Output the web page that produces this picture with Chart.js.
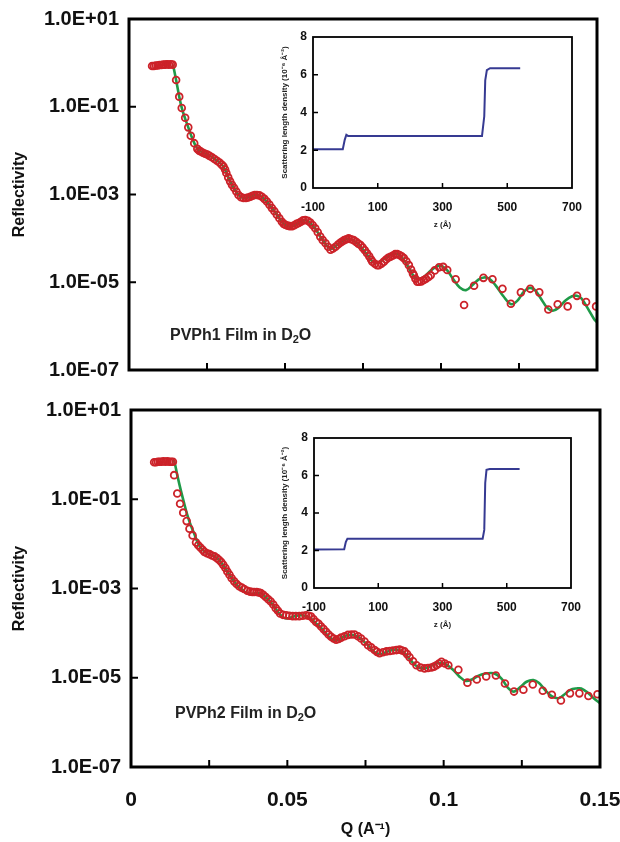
<!DOCTYPE html>
<html><head><meta charset="utf-8">
<script src="https://cdn.jsdelivr.net/npm/chart.js@4.4.1/dist/chart.umd.min.js"></script>
<style>
html,body{margin:0;padding:0;background:#fff;}
body{width:620px;height:842px;position:relative;overflow:hidden;font-family:'Liberation Sans',Arial,sans-serif;}
canvas{position:absolute;display:block;}
.lab{position:absolute;font-weight:bold;font-size:16px;white-space:nowrap;color:#222;line-height:18px;}
.lab sub{font-size:11px;vertical-align:-3px;line-height:0;}
</style></head><body>
<canvas id="mainTop" width="620" height="400" style="left:0;top:0"></canvas>
<canvas id="mainBot" width="620" height="442" style="left:0;top:400px"></canvas>
<canvas id="insTop" width="325" height="215" style="left:275px;top:25px"></canvas>
<canvas id="insBot" width="325" height="215" style="left:275px;top:425px"></canvas>
<div class="lab" style="left:170px;top:326px">PVPh1 Film in D<sub>2</sub>O</div>
<div class="lab" style="left:175px;top:704px">PVPh2 Film in D<sub>2</sub>O</div>
<script>
// ---- axis ticks ----
const yTickValues = [1e1, 1e-1, 1e-3, 1e-5, 1e-7];
const yTickLabels = ['1.0E+01', '1.0E-01', '1.0E-03', '1.0E-05', '1.0E-07'];
const xTickValues = [0, 0.025, 0.05, 0.075, 0.1, 0.125, 0.15];
const xTickLabels = ['0', '', '0.05', '', '0.1', '', '0.15'];
const insetXTicks = [-100, 100, 300, 500, 700];
const insetYTicks = [0, 2, 4, 6, 8];

const topQ = [0.0074,0.0080,0.0086,0.0092,0.0098,0.0104,0.0110,0.0116,0.0122,0.0128,0.0134,0.0140,
0.0151,0.0161,0.0169,0.0180,0.0190,0.0198,0.0209,0.0219,0.0225,0.0230,0.0237,0.0244,0.0251,0.0258,0.0266,0.0274,0.0282,0.0290,0.0297,0.0303,0.0308,0.0312,0.0318,0.0324,0.0330,0.0337,
0.0344,0.0351,0.0359,0.0367,0.0375,0.0382,0.0389,0.0396,0.0403,0.0410,0.0418,0.0426,0.0434,0.0442,0.0450,0.0458,0.0466,0.0474,0.0482,0.0490,0.0496,0.0501,0.0508,0.0515,0.0523,0.0530,0.0537,0.0544,0.0551,0.0558,0.0565,0.0573,0.0581,0.0589,0.0597,0.0605,0.0613,0.0621,0.0630,0.0638,0.0646,0.0654,0.0662,0.0670,0.0677,0.0683,0.0690,0.0697,0.0704,0.0712,0.0720,0.0728,0.0735,0.0742,0.0749,0.0756,0.0763,0.0770,0.0776,0.0780,0.0788,0.0795,0.0801,0.0809,0.0817,0.0824,0.0831,0.0838,0.0846,0.0853,0.0860,0.0867,0.0874,0.0881,0.0889,0.0897,0.0904,0.0910,0.0913,0.0918,0.0924,0.0930,0.0937,0.0945,0.0952,0.0960,0.0967,0.0980,0.0994,0.1007,0.1020,0.1047,0.1074,0.1106,0.1136,0.1165,0.1197,0.1224,0.1256,0.1286,0.1315,0.1344,0.1374,0.1406,0.1436,0.1465,0.1497];
const topLogR = [-0.07,-0.07,-0.06,-0.06,-0.05,-0.05,-0.04,-0.04,-0.03,-0.04,-0.03,-0.04,
-0.39,-0.77,-1.03,-1.25,-1.47,-1.66,-1.83,-1.96,-2.00,-2.02,-2.05,-2.07,-2.09,-2.12,-2.15,-2.19,-2.23,-2.27,-2.32,-2.36,-2.43,-2.51,-2.61,-2.70,-2.78,-2.85,
-2.93,-3.01,-3.06,-3.08,-3.08,-3.07,-3.05,-3.03,-3.01,-3.01,-3.02,-3.05,-3.10,-3.16,-3.23,-3.31,-3.38,-3.46,-3.54,-3.62,-3.67,-3.69,-3.71,-3.72,-3.72,-3.70,-3.67,-3.65,-3.62,-3.59,-3.58,-3.60,-3.64,-3.70,-3.77,-3.86,-3.96,-4.04,-4.11,-4.19,-4.26,-4.23,-4.19,-4.14,-4.10,-4.07,-4.04,-4.02,-4.00,-4.02,-4.04,-4.08,-4.12,-4.15,-4.21,-4.27,-4.34,-4.41,-4.48,-4.53,-4.58,-4.61,-4.61,-4.58,-4.53,-4.48,-4.44,-4.42,-4.39,-4.36,-4.36,-4.38,-4.41,-4.45,-4.52,-4.61,-4.71,-4.80,-4.84,-4.92,-4.99,-4.99,-4.98,-4.95,-4.92,-4.88,-4.84,-4.73,-4.66,-4.65,-4.72,-4.93,-5.52,-5.08,-4.90,-4.93,-5.15,-5.49,-5.23,-5.15,-5.23,-5.62,-5.50,-5.55,-5.31,-5.45,-5.55];

// ---- PVPh1 model fit ----
const topFitQ = [0.0141,0.0151,0.0161,0.0170,0.0180,0.0190,0.0200,0.0210,0.0220,0.0230,0.0245,0.0260,0.0275,0.0290,0.0303,0.0315,0.0325,0.0337,0.0350,0.0362,0.0375,0.0390,0.0405,0.0418,0.0430,0.0445,0.0460,0.0475,0.0490,0.0502,0.0515,0.0530,0.0545,0.0560,0.0572,0.0585,0.0600,0.0615,0.0630,0.0642,0.0652,0.0665,0.0680,0.0695,0.0705,0.0720,0.0735,0.0750,0.0765,0.0778,0.0790,0.0800,0.0815,0.0830,0.0845,0.0858,0.0872,0.0885,0.0900,0.0915,0.0930,0.0945,0.0960,0.0975,0.0990,0.1005,0.1020,0.1040,0.1060,0.1080,0.1100,0.1120,0.1138,0.1155,0.1175,0.1200,0.1225,0.1245,0.1265,0.1283,0.1300,0.1320,0.1340,0.1358,0.1375,0.1400,0.1420,0.1435,0.1450,0.1470,0.1490,0.1500];
const topFitLogR = [-0.04,-0.39,-0.77,-1.05,-1.27,-1.47,-1.67,-1.84,-1.96,-2.02,-2.07,-2.12,-2.19,-2.27,-2.37,-2.55,-2.71,-2.86,-3.00,-3.07,-3.08,-3.05,-3.01,-3.02,-3.08,-3.19,-3.33,-3.47,-3.62,-3.70,-3.73,-3.70,-3.64,-3.59,-3.60,-3.68,-3.81,-3.98,-4.13,-4.22,-4.23,-4.16,-4.08,-4.02,-4.01,-4.05,-4.13,-4.25,-4.39,-4.51,-4.56,-4.55,-4.48,-4.41,-4.36,-4.35,-4.41,-4.53,-4.71,-4.88,-4.93,-4.88,-4.78,-4.69,-4.63,-4.64,-4.73,-4.94,-5.12,-5.18,-5.07,-4.94,-4.89,-4.92,-5.07,-5.32,-5.50,-5.42,-5.22,-5.13,-5.17,-5.37,-5.58,-5.65,-5.59,-5.41,-5.32,-5.31,-5.37,-5.59,-5.83,-5.91];

// ---- PVPh2 measured data ----
const botQ = [0.0074,0.0080,0.0086,0.0092,0.0098,0.0104,0.0110,0.0116,0.0122,0.0128,0.0134,
0.0138,0.0148,0.0157,0.0167,0.0178,0.0187,0.0197,0.0208,0.0215,0.0222,0.0229,0.0235,0.0243,0.0251,0.0259,0.0267,0.0275,0.0282,0.0289,0.0295,0.0302,0.0308,0.0315,0.0322,0.0330,0.0338,0.0346,0.0354,0.0362,0.0372,0.0381,0.0388,0.0394,0.0402,0.0409,0.0415,0.0423,0.0431,0.0439,0.0447,0.0455,0.0463,0.0470,0.0477,0.0486,0.0496,0.0506,0.0517,0.0527,0.0538,0.0549,0.0560,0.0568,0.0576,0.0584,0.0592,0.0600,0.0608,0.0616,0.0624,0.0632,0.0640,0.0648,0.0656,0.0664,0.0672,0.0683,0.0694,0.0705,0.0715,0.0726,0.0736,0.0747,0.0758,0.0768,0.0779,0.0787,0.0795,0.0806,0.0817,0.0828,0.0838,0.0849,0.0859,0.0867,0.0875,0.0883,0.0891,0.0902,0.0913,0.0926,0.0939,0.0950,0.0961,0.0969,0.0977,0.0985,0.0993,0.1004,0.1015,0.1047,0.1076,0.1106,0.1136,0.1167,0.1196,0.1225,0.1255,0.1285,0.1317,0.1346,0.1375,0.1404,0.1434,0.1463,0.1492];
const botLogR = [-0.17,-0.17,-0.16,-0.16,-0.16,-0.15,-0.16,-0.15,-0.16,-0.16,-0.16,
-0.46,-0.87,-1.10,-1.30,-1.49,-1.66,-1.81,-1.97,-2.03,-2.08,-2.13,-2.18,-2.21,-2.23,-2.26,-2.28,-2.32,-2.36,-2.41,-2.47,-2.54,-2.62,-2.69,-2.77,-2.84,-2.90,-2.95,-2.98,-3.01,-3.05,-3.07,-3.08,-3.08,-3.08,-3.09,-3.10,-3.14,-3.19,-3.24,-3.29,-3.36,-3.44,-3.50,-3.56,-3.59,-3.60,-3.61,-3.62,-3.62,-3.62,-3.61,-3.60,-3.61,-3.63,-3.69,-3.75,-3.79,-3.85,-3.91,-3.97,-4.03,-4.08,-4.12,-4.15,-4.13,-4.10,-4.07,-4.04,-4.03,-4.03,-4.07,-4.12,-4.19,-4.27,-4.32,-4.38,-4.42,-4.45,-4.43,-4.41,-4.40,-4.39,-4.38,-4.37,-4.39,-4.41,-4.47,-4.54,-4.63,-4.72,-4.77,-4.79,-4.78,-4.77,-4.75,-4.72,-4.68,-4.64,-4.68,-4.72,-4.82,-5.11,-5.04,-4.97,-4.95,-5.13,-5.31,-5.27,-5.15,-5.29,-5.38,-5.51,-5.35,-5.35,-5.41,-5.37];

// ---- PVPh2 model fit ----
const botFitQ = [0.0134,0.0138,0.0148,0.0159,0.0170,0.0180,0.0191,0.0202,0.0212,0.0222,0.0235,0.0250,0.0265,0.0280,0.0295,0.0310,0.0325,0.0340,0.0355,0.0370,0.0385,0.0400,0.0415,0.0430,0.0445,0.0460,0.0475,0.0488,0.0500,0.0515,0.0530,0.0545,0.0560,0.0575,0.0590,0.0605,0.0620,0.0635,0.0650,0.0665,0.0680,0.0695,0.0710,0.0725,0.0740,0.0755,0.0770,0.0785,0.0800,0.0815,0.0830,0.0845,0.0860,0.0875,0.0890,0.0905,0.0920,0.0935,0.0950,0.0965,0.0980,0.0995,0.1010,0.1030,0.1050,0.1070,0.1090,0.1110,0.1130,0.1160,0.1185,0.1205,0.1225,0.1245,0.1265,0.1287,0.1305,0.1325,0.1345,0.1367,0.1385,0.1405,0.1425,0.1440,0.1460,0.1480,0.1500];
const botFitLogR = [-0.15,-0.14,-0.46,-0.79,-1.09,-1.35,-1.58,-1.77,-1.95,-2.08,-2.17,-2.23,-2.27,-2.35,-2.48,-2.64,-2.80,-2.93,-3.02,-3.10,-3.12,-3.10,-3.11,-3.19,-3.29,-3.43,-3.57,-3.65,-3.67,-3.64,-3.61,-3.60,-3.62,-3.67,-3.77,-3.86,-3.98,-4.09,-4.16,-4.14,-4.08,-4.04,-4.04,-4.08,-4.16,-4.25,-4.37,-4.45,-4.47,-4.43,-4.39,-4.37,-4.39,-4.45,-4.57,-4.69,-4.77,-4.79,-4.77,-4.71,-4.67,-4.67,-4.71,-4.82,-4.97,-5.07,-5.04,-4.96,-4.91,-4.90,-5.02,-5.22,-5.31,-5.21,-5.09,-5.05,-5.12,-5.28,-5.41,-5.46,-5.38,-5.27,-5.24,-5.24,-5.33,-5.46,-5.57];

// ---- insets: SLD profiles, z (A) and SLD (1e-6 A^-2) ----
const insTopZ = [-100, -8, -2, 3, 8, 422, 429, 432, 437, 447, 540];
const insTopSLD = [2.05, 2.05, 2.55, 2.82, 2.76, 2.76, 3.8, 5.7, 6.25, 6.35, 6.35];
const insBotZ = [-100, -6, -1, 4, 425, 430, 433, 437, 447, 540];
const insBotSLD = [2.05, 2.07, 2.45, 2.63, 2.63, 3.1, 5.6, 6.3, 6.35, 6.35];

const FONT = "'Liberation Sans', Arial, Helvetica, sans-serif";
const RED = '#cc2229', GREEN = '#1f9a48', NAVY = '#363a92';

const framePlugin = {
  id: 'frame',
  afterDraw(chart, args, o) {
    const {ctx, chartArea: a, scales} = chart;
    ctx.save();
    ctx.strokeStyle = '#000';
    ctx.lineWidth = o.tw;
    scales.x.ticks.forEach(t => {
      const x = scales.x.getPixelForValue(t.value);
      if (x <= a.left + 2 || x >= a.right - 2) return;
      ctx.beginPath(); ctx.moveTo(x, a.bottom); ctx.lineTo(x, a.bottom - o.tl); ctx.stroke();
    });
    scales.y.ticks.forEach(t => {
      const y = scales.y.getPixelForValue(t.value);
      if (y <= a.top + 2 || y >= a.bottom - 2) return;
      ctx.beginPath(); ctx.moveTo(a.left, y); ctx.lineTo(a.left + o.tl, y); ctx.stroke();
    });
    ctx.lineWidth = o.lw;
    ctx.strokeRect(a.left, a.top, a.right - a.left, a.bottom - a.top);
    ctx.restore();
  }
};

function pts(xs, ys) { return xs.map((x, i) => ({x: x, y: Math.pow(10, ys[i])})); }
function xy(xs, ys) { return xs.map((x, i) => ({x: x, y: ys[i]})); }

function mainChart(id, q, logR, fq, flogR, L) {
  return new Chart(document.getElementById(id), {
    type: 'scatter',
    data: {datasets: [
      {data: pts(q, logR), borderColor: RED, backgroundColor: 'rgba(0,0,0,0)', pointRadius: 3.4, pointBorderWidth: 1.8, showLine: false, order: 0},
      {data: pts(fq, flogR), borderColor: GREEN, backgroundColor: GREEN, borderWidth: 2.6, pointRadius: 0, showLine: true, tension: 0.35, order: 1}
    ]},
    options: {
      responsive: false, animation: false, devicePixelRatio: 1,
      layout: {padding: {left: 0, top: L.top, right: L.right, bottom: 0}},
      plugins: {legend: {display: false}, tooltip: {enabled: false}, frame: {lw: 3, tw: 2, tl: 7}},
      scales: {
        x: {
          type: 'linear', min: 0, max: 0.15,
          afterBuildTicks: s => { s.ticks = xTickValues.map(v => ({value: v})); },
          afterFit: s => { s.height = L.xh; s.paddingLeft = 0; s.paddingRight = 0; },
          grid: {display: false, drawTicks: false}, border: {display: false},
          ticks: {display: L.showX, autoSkip: false, maxRotation: 0, padding: 21, color: '#111',
                  font: {family: FONT, size: 21, weight: 'bold'}, callback: (v, i) => xTickLabels[i]},
          title: {display: L.showX, text: 'Q (A\u207B\u00B9)', color: '#111', padding: {top: 0, bottom: 3},
                  font: {family: FONT, size: 16, weight: 'bold'}}
        },
        y: {
          type: 'logarithmic', min: 1e-7, max: 10,
          afterBuildTicks: s => { s.ticks = yTickValues.map(v => ({value: v})); },
          afterFit: s => { s.width = L.yw; s.paddingTop = 0; s.paddingBottom = 0; },
          grid: {display: false, drawTicks: false}, border: {display: false},
          ticks: {autoSkip: false, padding: 10, color: '#111',
                  font: {family: FONT, size: 20, weight: 'bold'}, callback: (v, i) => yTickLabels[i]},
          title: {display: true, text: 'Reflectivity', color: '#111', padding: {top: 10, bottom: 0},
                  font: {family: FONT, size: 16, weight: 'bold'}}
        }
      }
    },
    plugins: [framePlugin]
  });
}

function insetChart(id, z, sld, L) {
  return new Chart(document.getElementById(id), {
    type: 'scatter',
    data: {datasets: [
      {data: xy(z, sld), borderColor: NAVY, backgroundColor: NAVY, borderWidth: 2, pointRadius: 0, showLine: true, tension: 0}
    ]},
    options: {
      responsive: false, animation: false, devicePixelRatio: 1,
      layout: {padding: {left: 0, top: L.top, right: L.right, bottom: 0}},
      plugins: {legend: {display: false}, tooltip: {enabled: false}, frame: {lw: 1.8, tw: 1.5, tl: 5}},
      scales: {
        x: {
          type: 'linear', min: -100, max: 700,
          afterBuildTicks: s => { s.ticks = insetXTicks.map(v => ({value: v})); },
          afterFit: s => { s.height = 52; s.paddingLeft = 0; s.paddingRight = 0; },
          grid: {display: false, drawTicks: false}, border: {display: false},
          ticks: {autoSkip: false, maxRotation: 0, padding: 12, color: '#111',
                  font: {family: FONT, size: 12, weight: 'bold'}, callback: (v, i) => String(insetXTicks[i])},
          title: {display: true, text: 'z (\u00C5)', color: '#222', padding: {top: 0, bottom: 10},
                  font: {family: FONT, size: 8, weight: 'bold'}}
        },
        y: {
          type: 'linear', min: 0, max: 8,
          afterBuildTicks: s => { s.ticks = insetYTicks.map(v => ({value: v})); },
          afterFit: s => { s.width = L.yw; s.paddingTop = 0; s.paddingBottom = 0; },
          grid: {display: false, drawTicks: false}, border: {display: false},
          ticks: {autoSkip: false, padding: 6, color: '#111',
                  font: {family: FONT, size: 12, weight: 'bold'}, callback: (v, i) => String(insetYTicks[i])},
          title: {display: true, text: 'Scattering length density (10\u207B\u2076 \u00C5\u207B\u00B2)', color: '#222',
                  padding: {top: 5, bottom: 0}, font: {family: FONT, size: 8, weight: 'bold'}}
        }
      }
    },
    plugins: [framePlugin]
  });
}

mainChart('mainTop', topQ, topLogR, topFitQ, topFitLogR, {top: 19, right: 23, xh: 30, yw: 129, showX: false});
mainChart('mainBot', botQ, botLogR, botFitQ, botFitLogR, {top: 10, right: 20, xh: 75, yw: 131, showX: true});
insetChart('insTop', insTopZ, insTopSLD, {top: 12, right: 28, yw: 38});
insetChart('insBot', insBotZ, insBotSLD, {top: 13, right: 29, yw: 39});
</script>
</body></html>
